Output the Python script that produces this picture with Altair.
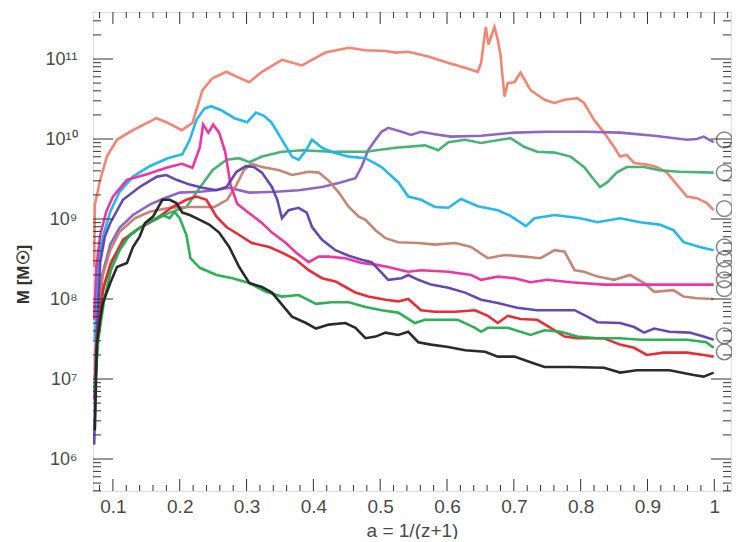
import altair as alt
import pandas as pd

# ---- data: a = 1/(z+1) and log10(M / Msun) ----
A_SALMON = [0.072,0.073,0.081,0.091,0.106,0.130,0.165,0.180,0.203,0.219,0.234,0.249,0.270,0.285,0.304,0.323,0.353,0.383,0.418,0.453,0.478,0.508,0.523,0.542,0.572,0.602,0.627,0.646,0.651,0.658,0.662,0.671,0.676,0.680,0.686,0.691,0.701,0.710,0.725,0.746,0.761,0.776,0.795,0.805,0.820,0.835,0.850,0.859,0.869,0.880,0.899,0.914,0.929,0.944,0.959,0.974,0.989,0.999]
L_SALMON = [8.40,9.18,9.49,9.78,9.99,10.11,10.26,10.21,10.11,10.20,10.61,10.76,10.84,10.78,10.71,10.84,10.99,10.92,11.08,11.14,11.11,11.10,11.08,11.09,11.03,10.95,10.89,10.84,10.95,11.40,11.18,11.40,11.24,11.05,10.53,10.70,10.71,10.83,10.61,10.49,10.45,10.49,10.51,10.45,10.24,10.08,9.90,9.78,9.80,9.70,9.68,9.65,9.58,9.43,9.28,9.26,9.20,9.11]

A_CYAN = [0.073,0.078,0.085,0.096,0.110,0.130,0.155,0.182,0.204,0.215,0.225,0.237,0.247,0.262,0.282,0.301,0.314,0.326,0.337,0.353,0.368,0.378,0.389,0.398,0.413,0.430,0.453,0.478,0.502,0.527,0.542,0.561,0.582,0.602,0.621,0.646,0.676,0.695,0.718,0.731,0.761,0.799,0.825,0.859,0.889,0.918,0.939,0.954,0.978,0.999]
L_CYAN = [7.49,8.46,8.78,9.09,9.34,9.53,9.66,9.76,9.81,9.99,10.24,10.38,10.41,10.36,10.26,10.21,10.33,10.29,10.21,9.99,9.78,9.74,9.86,9.99,9.89,9.83,9.78,9.76,9.65,9.46,9.28,9.24,9.15,9.14,9.25,9.16,9.11,9.04,8.91,9.01,9.05,9.01,8.96,9.01,8.96,8.93,8.86,8.71,8.65,8.61]

A_PURPLE = [0.072,0.076,0.084,0.096,0.110,0.130,0.155,0.177,0.200,0.230,0.252,0.274,0.304,0.344,0.378,0.413,0.438,0.463,0.472,0.482,0.493,0.502,0.512,0.532,0.546,0.561,0.582,0.606,0.651,0.701,0.750,0.810,0.859,0.910,0.959,0.974,0.984,0.999]
L_PURPLE = [6.74,7.74,8.30,8.68,8.89,9.05,9.18,9.26,9.33,9.34,9.36,9.39,9.33,9.34,9.36,9.40,9.45,9.51,9.65,9.86,9.99,10.09,10.14,10.09,10.05,10.09,10.06,10.03,10.04,10.08,10.09,10.09,10.08,10.04,9.99,10.00,10.03,9.96]

A_SLATE = [0.072,0.075,0.081,0.088,0.096,0.115,0.140,0.166,0.180,0.195,0.215,0.234,0.255,0.270,0.285,0.299,0.311,0.323,0.338,0.346,0.353,0.363,0.378,0.390,0.398,0.413,0.433,0.453,0.472,0.487,0.502,0.512,0.532,0.542,0.557,0.576,0.602,0.627,0.651,0.676,0.705,0.735,0.761,0.791,0.810,0.825,0.859,0.880,0.895,0.910,0.933,0.963,0.984,0.999]
L_SLATE = [6.18,7.36,8.46,8.78,8.95,9.24,9.40,9.53,9.55,9.49,9.43,9.39,9.36,9.40,9.59,9.66,9.65,9.58,9.40,9.24,9.01,9.11,9.14,9.08,8.90,8.74,8.61,8.54,8.49,8.46,8.33,8.24,8.26,8.30,8.24,8.18,8.14,8.08,7.99,7.95,7.89,7.86,7.86,7.86,7.78,7.71,7.70,7.65,7.58,7.63,7.59,7.58,7.53,7.49]

A_MAGENTA = [0.072,0.075,0.081,0.090,0.100,0.121,0.151,0.180,0.203,0.219,0.230,0.235,0.243,0.250,0.259,0.268,0.276,0.286,0.301,0.323,0.338,0.359,0.374,0.393,0.408,0.423,0.448,0.472,0.493,0.512,0.532,0.542,0.561,0.602,0.636,0.651,0.676,0.701,0.725,0.750,0.785,0.835,0.884,0.933,0.999]
L_MAGENTA = [7.74,8.39,8.80,9.09,9.28,9.49,9.56,9.64,9.69,9.64,9.89,10.18,10.08,10.18,10.08,9.84,9.43,9.19,9.09,8.95,8.83,8.70,8.58,8.46,8.53,8.53,8.51,8.45,8.43,8.40,8.36,8.34,8.36,8.34,8.30,8.24,8.28,8.26,8.21,8.24,8.21,8.18,8.18,8.18,8.18]

A_BROWN = [0.073,0.078,0.085,0.096,0.110,0.133,0.155,0.185,0.215,0.252,0.271,0.285,0.296,0.307,0.323,0.349,0.368,0.393,0.408,0.423,0.438,0.453,0.468,0.478,0.493,0.508,0.527,0.557,0.582,0.612,0.636,0.661,0.686,0.716,0.740,0.761,0.776,0.791,0.805,0.825,0.850,0.874,0.895,0.910,0.939,0.954,0.974,0.999]
L_BROWN = [7.24,7.86,8.30,8.61,8.84,9.01,9.09,9.14,9.15,9.15,9.24,9.43,9.61,9.69,9.65,9.61,9.55,9.59,9.58,9.48,9.33,9.15,9.03,8.99,8.86,8.76,8.71,8.70,8.68,8.70,8.65,8.51,8.55,8.53,8.51,8.61,8.59,8.36,8.34,8.28,8.24,8.30,8.20,8.09,8.11,8.03,8.01,8.00]

A_GREEN1 = [0.073,0.078,0.087,0.099,0.118,0.140,0.163,0.185,0.210,0.230,0.249,0.270,0.289,0.304,0.323,0.353,0.383,0.427,0.478,0.523,0.567,0.587,0.602,0.627,0.651,0.680,0.695,0.716,0.735,0.761,0.785,0.805,0.820,0.829,0.840,0.854,0.869,0.895,0.918,0.948,0.999]
L_GREEN1 = [7.11,7.74,8.18,8.49,8.74,8.89,8.99,9.08,9.15,9.39,9.61,9.74,9.76,9.71,9.78,9.84,9.86,9.84,9.84,9.89,9.92,9.86,9.96,9.99,9.95,9.99,10.01,9.90,9.84,9.83,9.78,9.65,9.49,9.40,9.46,9.58,9.65,9.65,9.61,9.59,9.58]

A_RED = [0.073,0.078,0.085,0.096,0.115,0.140,0.166,0.189,0.210,0.225,0.240,0.255,0.270,0.289,0.308,0.334,0.353,0.374,0.393,0.413,0.433,0.448,0.463,0.482,0.508,0.527,0.542,0.561,0.582,0.612,0.642,0.661,0.676,0.691,0.710,0.735,0.755,0.776,0.795,0.835,0.859,0.880,0.899,0.924,0.959,0.984,0.999]
L_RED = [6.99,7.61,8.11,8.43,8.74,8.89,9.01,9.15,9.24,9.28,9.24,9.03,8.90,8.80,8.70,8.65,8.58,8.49,8.36,8.26,8.22,8.15,8.08,8.03,7.99,7.97,8.00,7.86,7.84,7.84,7.86,7.79,7.70,7.79,7.75,7.74,7.64,7.53,7.51,7.51,7.43,7.39,7.30,7.33,7.33,7.30,7.28]

A_GREEN2 = [0.073,0.078,0.087,0.097,0.110,0.125,0.151,0.174,0.185,0.192,0.200,0.210,0.216,0.230,0.255,0.279,0.304,0.329,0.353,0.378,0.404,0.427,0.453,0.478,0.502,0.527,0.552,0.567,0.591,0.616,0.642,0.651,0.661,0.691,0.725,0.746,0.770,0.795,0.825,0.859,0.889,0.918,0.959,0.988,0.999]
L_GREEN2 = [6.86,7.49,7.99,8.36,8.61,8.80,8.95,9.05,9.01,9.09,9.01,8.80,8.51,8.39,8.30,8.26,8.20,8.09,8.03,8.05,7.94,7.96,7.96,7.90,7.86,7.83,7.70,7.74,7.74,7.74,7.64,7.59,7.64,7.64,7.55,7.61,7.59,7.53,7.51,7.51,7.49,7.49,7.49,7.46,7.39]

A_BLACK = [0.073,0.076,0.081,0.085,0.096,0.106,0.121,0.130,0.140,0.148,0.160,0.174,0.185,0.195,0.204,0.215,0.230,0.244,0.259,0.274,0.289,0.304,0.323,0.338,0.353,0.368,0.389,0.404,0.423,0.448,0.463,0.478,0.493,0.508,0.527,0.542,0.557,0.576,0.602,0.627,0.657,0.676,0.701,0.725,0.746,0.785,0.835,0.859,0.884,0.933,0.969,0.984,0.999]
L_BLACK = [6.36,7.43,7.76,7.95,8.20,8.40,8.45,8.65,8.78,8.95,9.03,9.24,9.24,9.20,9.08,9.05,8.99,8.93,8.83,8.65,8.40,8.20,8.15,8.08,7.93,7.78,7.70,7.63,7.68,7.70,7.64,7.51,7.53,7.58,7.55,7.59,7.46,7.43,7.40,7.36,7.34,7.28,7.28,7.21,7.15,7.15,7.14,7.08,7.11,7.11,7.05,7.03,7.08]

# open circles at the right edge
A_CIRCLES = [1.015] * 10
L_CIRCLES = [9.99, 9.58, 9.13, 8.65, 8.50, 8.36, 8.24, 8.13, 7.54, 7.34]

SERIES = [
    ("salmon", "#f27e6b", A_SALMON, L_SALMON),
    ("purple", "#8b5cc4", A_PURPLE, L_PURPLE),
    ("green1", "#3daf6e", A_GREEN1, L_GREEN1),
    ("cyan", "#1ab4ec", A_CYAN, L_CYAN),
    ("brown", "#c47f6d", A_BROWN, L_BROWN),
    ("magenta", "#ec2b9e", A_MAGENTA, L_MAGENTA),
    ("slate", "#5b3fb2", A_SLATE, L_SLATE),
    ("red", "#e9212d", A_RED, L_RED),
    ("green2", "#21ad4c", A_GREEN2, L_GREEN2),
    ("black", "#231f20", A_BLACK, L_BLACK),
]

# axis structure
X_MAJOR = [0.1, 0.2, 0.3, 0.4, 0.5, 0.6, 0.7, 0.8, 0.9, 1.0]
X_MINOR = [0.08, 0.12, 0.14, 0.16, 0.18, 0.22, 0.24, 0.26, 0.28, 0.32, 0.34, 0.36, 0.38,
           0.42, 0.44, 0.46, 0.48, 0.52, 0.54, 0.56, 0.58, 0.62, 0.64, 0.66, 0.68,
           0.72, 0.74, 0.76, 0.78, 0.82, 0.84, 0.86, 0.88, 0.92, 0.94, 0.96, 0.98, 1.02]
Y_MAJOR = [1e6, 1e7, 1e8, 1e9, 1e10, 1e11]
Y_LO, Y_HI = 10 ** 5.6, 10 ** 11.5875
Y_MINOR = [k * 10.0 ** n for n in range(5, 12) for k in range(2, 10) if Y_LO <= k * 10.0 ** n <= Y_HI]

rows = []
for name, color, av, lv in SERIES:
    for i, (a, l) in enumerate(zip(av, lv)):
        rows.append({"series": name, "i": i, "a": a, "M": 10 ** l})
df = pd.DataFrame(rows)
circ = pd.DataFrame({"a": A_CIRCLES, "M": [10 ** l for l in L_CIRCLES]})

W, H = 638, 479
xscale = alt.Scale(domain=[0.0702, 1.025], nice=False, zero=False)
yscale = alt.Scale(type="log", domain=[Y_LO, Y_HI], nice=False)

FONT = "Liberation Sans"
LBL = "#4a4a4a"

ylabel = ("datum.value > 5e10 ? '10¹¹' : datum.value > 5e9 ? '10¹⁰' : datum.value > 5e8 ? '10⁹' : "
          "datum.value > 5e7 ? '10⁸' : datum.value > 5e6 ? '10⁷' : '10⁶'")
xlabel = "datum.value > 0.99 ? '1' : format(datum.value, '.1f')"

XAXIS = alt.Axis(values=X_MAJOR, labelExpr=xlabel, ticks=False, domain=False, grid=False,
                 title="a = 1/(z+1)", labelFont=FONT, labelFontSize=19, labelColor=LBL,
                 labelPadding=6, titleFont=FONT, titleFontSize=19, titleFontWeight="normal",
                 titleColor=LBL, titlePadding=5)
YAXIS = alt.Axis(values=Y_MAJOR, labelExpr=ylabel, ticks=False, domain=False, grid=False,
                 title="M [M☉]", labelFont=FONT, labelFontSize=18, labelColor=LBL,
                 labelPadding=16, titleFont=FONT, titleFontSize=17, titleFontWeight="bold",
                 titleColor="#333", titlePadding=12, titleY=262)


def X(field):
    return alt.X(field, scale=xscale, axis=XAXIS)


def Y(field):
    return alt.Y(field, scale=yscale, axis=YAXIS)


lines = alt.Chart(df).mark_line(strokeWidth=2.6, opacity=0.95).encode(
    x=X("a:Q"), y=Y("M:Q"),
    color=alt.Color("series:N", scale=alt.Scale(domain=[s[0] for s in SERIES], range=[s[1] for s in SERIES]),
                    legend=None),
    order="i:Q",
)

circles = alt.Chart(circ).mark_point(shape="circle", size=250, filled=False, stroke="#555555",
                                     strokeWidth=1.5).encode(x=X("a:Q"), y=Y("M:Q"))

TICK = "#333333"


def yticks(vals, length):
    d = pd.DataFrame({"M": vals})
    left = alt.Chart(d).mark_rule(color=TICK, strokeWidth=1).encode(
        y=Y("M:Q"), x=alt.value(0), x2=alt.value(length))
    right = alt.Chart(d).mark_rule(color=TICK, strokeWidth=1).encode(
        y=Y("M:Q"), x=alt.value(W - length), x2=alt.value(W))
    return [left, right]


def xticks(vals, length):
    d = pd.DataFrame({"a": vals})
    bottom = alt.Chart(d).mark_rule(color=TICK, strokeWidth=1).encode(
        x=X("a:Q"), y=alt.value(H), y2=alt.value(H - length))
    top = alt.Chart(d).mark_rule(color=TICK, strokeWidth=1).encode(
        x=X("a:Q"), y=alt.value(0), y2=alt.value(length))
    return [bottom, top]


layers = [lines, circles] + yticks(Y_MAJOR, 20) + yticks(Y_MINOR, 8) + xticks(X_MAJOR, 12) + xticks(X_MINOR, 6)

chart = alt.layer(*layers).properties(
    width=W, height=H,
    autosize=alt.AutoSizeParams(type="none"),
    padding={"left": 85, "top": 4, "right": 1, "bottom": 48},
).configure_view(stroke="#222222", strokeWidth=1.2).configure(background="white")

chart.save("out.html", embed_options={"renderer": "svg", "actions": False})
